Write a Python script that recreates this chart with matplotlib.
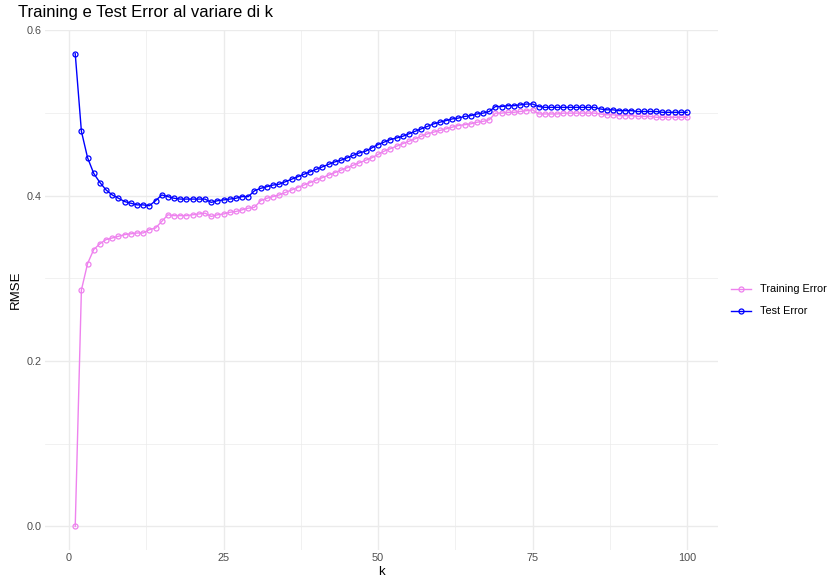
import numpy as np
import matplotlib.pyplot as plt
from matplotlib.ticker import MultipleLocator

plt.rcParams['font.family'] = ['Liberation Sans', 'DejaVu Sans']

k = np.arange(1, 101)

test_err = [0.572, 0.478, 0.446, 0.427, 0.416, 0.407, 0.401, 0.397, 0.393, 0.391,
            0.389, 0.389, 0.388, 0.394, 0.401, 0.399, 0.397, 0.396, 0.396, 0.396,
            0.396, 0.396, 0.392, 0.394, 0.395, 0.396, 0.397, 0.399, 0.399, 0.406,
            0.409, 0.411, 0.413, 0.414, 0.417, 0.420, 0.423, 0.426, 0.429, 0.432,
            0.435, 0.438, 0.441, 0.443, 0.446, 0.449, 0.452, 0.454, 0.458, 0.462,
            0.465, 0.468, 0.470, 0.472, 0.475, 0.478, 0.481, 0.484, 0.487, 0.489,
            0.491, 0.493, 0.494, 0.496, 0.497, 0.499, 0.500, 0.502, 0.508, 0.508,
            0.509, 0.509, 0.510, 0.511, 0.511, 0.508, 0.507, 0.507, 0.507, 0.507,
            0.507, 0.507, 0.507, 0.507, 0.507, 0.505, 0.504, 0.504, 0.503, 0.503,
            0.503, 0.502, 0.502, 0.502, 0.502, 0.501, 0.501, 0.501, 0.501, 0.501]

train_err = [0.000, 0.286, 0.318, 0.335, 0.342, 0.347, 0.349, 0.351, 0.353, 0.354,
             0.355, 0.355, 0.359, 0.361, 0.369, 0.377, 0.376, 0.376, 0.376, 0.377,
             0.378, 0.379, 0.375, 0.377, 0.378, 0.380, 0.381, 0.383, 0.385, 0.386,
             0.394, 0.397, 0.399, 0.401, 0.404, 0.407, 0.410, 0.413, 0.416, 0.419,
             0.422, 0.425, 0.428, 0.431, 0.434, 0.437, 0.440, 0.443, 0.446, 0.450,
             0.454, 0.457, 0.460, 0.463, 0.466, 0.469, 0.472, 0.475, 0.477, 0.479,
             0.481, 0.483, 0.485, 0.486, 0.487, 0.489, 0.490, 0.492, 0.500, 0.500,
             0.501, 0.501, 0.502, 0.503, 0.504, 0.499, 0.499, 0.499, 0.499, 0.500,
             0.500, 0.500, 0.500, 0.500, 0.500, 0.499, 0.498, 0.498, 0.497, 0.497,
             0.497, 0.496, 0.496, 0.496, 0.495, 0.495, 0.495, 0.495, 0.495, 0.495]

fig = plt.figure(figsize=(8.28, 5.8), dpi=100)
ax = fig.add_axes([0.0539, 0.0517, 0.8128, 0.8966])

ax.plot(k, train_err, color='violet', lw=1, marker='o', ms=3.6, mfc='none',
        mew=0.9, label='Training Error')
ax.plot(k, test_err, color='blue', lw=1, marker='o', ms=3.6, mfc='none',
        mew=0.9, label='Test Error')

ax.set_xlim(1 - 4.95, 100 + 4.95)
ax.set_ylim(-0.0286, 0.6006)
ax.xaxis.set_major_locator(MultipleLocator(25))
ax.xaxis.set_minor_locator(MultipleLocator(12.5))
ax.yaxis.set_major_locator(MultipleLocator(0.2))
ax.yaxis.set_minor_locator(MultipleLocator(0.1))
ax.yaxis.set_major_formatter(plt.FuncFormatter(lambda v, p: f'{v:.1f}'))

ax.grid(which='major', color='#ebebeb', lw=1.0)
ax.grid(which='minor', color='#ebebeb', lw=0.5)
ax.set_axisbelow(True)
for s in ax.spines.values():
    s.set_visible(False)
ax.tick_params(which='both', length=0, labelsize=7.8, labelcolor='#4d4d4d', pad=2.5)

ax.set_xlabel('k', fontsize=9.5, labelpad=2)
ax.set_ylabel('RMSE', fontsize=9.5, labelpad=3)
fig.text(0.022, 0.979, 'Training e Test Error al variare di k', fontsize=12,
         va='center', ha='left')

ax.legend(loc='center left', bbox_to_anchor=(1.005, 0.48), frameon=False,
          fontsize=7.8, handlelength=1.9, labelspacing=1.1)

fig.savefig('out.png', dpi=100)
